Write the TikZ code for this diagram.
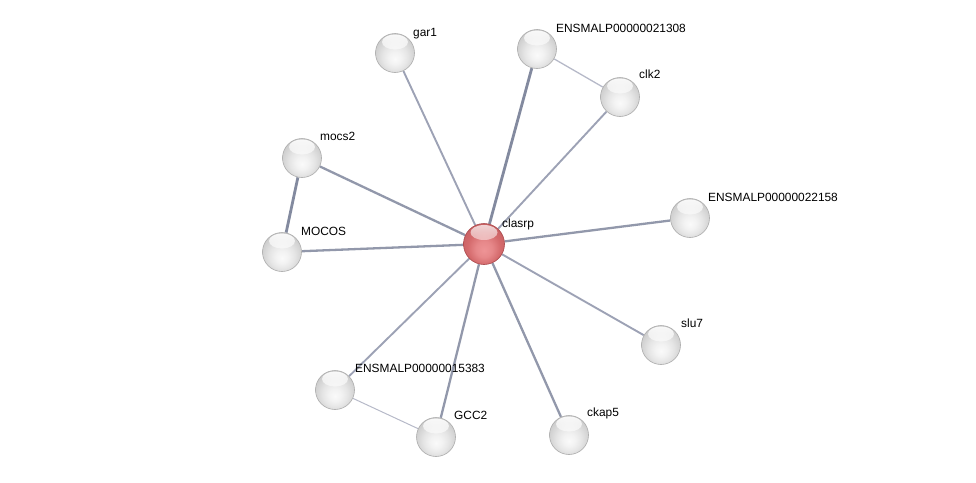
\documentclass[tikz,border=0pt]{standalone}
\usepackage{fontspec}
\setmainfont{Liberation Sans}
\usetikzlibrary{fadings}
\pgfdeclareradialshading{graysphere}{\pgfpoint{0bp}{-8bp}}{%
  color(0bp)=(white!96!gray); color(8bp)=(white!90!gray); color(16bp)=(white!80!gray);
  color(24bp)=(white!66!gray); color(30bp)=(white!56!gray); color(50bp)=(white!50!gray)}
\definecolor{redbody}{HTML}{D46A6C}
\definecolor{redlight}{HTML}{EE9496}
\definecolor{redrim}{HTML}{A8474A}
\pgfdeclareradialshading{redsphere}{\pgfpoint{0bp}{-8bp}}{%
  color(0bp)=(redlight); color(10bp)=(redlight!70!redbody); color(20bp)=(redbody);
  color(28bp)=(redbody!75!redrim); color(33bp)=(redrim); color(50bp)=(redrim)}
\definecolor{edgeA}{HTML}{838A9F}
\definecolor{edgeB}{HTML}{9DA2B5}
\definecolor{edgeC}{HTML}{B6B9C8}
\tikzset{
  prot/.style={circle, minimum size=39pt, inner sep=0pt, shading=graysphere,
    draw=white!35!gray, line width=0.6pt,
    path picture={\fill[white, path fading=south, opacity=0.9]
      ([yshift=-8.5pt]path picture bounding box.north) ellipse (13pt and 7.5pt);}},
  qprot/.style={circle, minimum size=41pt, inner sep=0pt, shading=redsphere,
    draw=redrim, line width=0.6pt,
    path picture={\fill[white, path fading=south, opacity=0.75]
      ([yshift=-9pt]path picture bounding box.north) ellipse (13.5pt and 7.5pt);}},
  lbl/.style={anchor=base west, inner sep=0pt, font=\fontsize{11.9}{14}\selectfont},
  strong/.style={draw=edgeA, line width=2.8pt},
  medium/.style={draw=edgeA!88!white, line width=2.3pt},
  weak/.style={draw=edgeB, line width=1.9pt},
  faint/.style={draw=edgeC, line width=1.3pt},
}
\pgfdeclarelayer{bg}
\pgfsetlayers{bg,main}
\begin{document}
\begin{tikzpicture}[x=1pt,y=-1pt]
\useasboundingbox (0,0) rectangle (976,482);
% nodes
\node[qprot] (clasrp) at (484,244) {};
\node[prot] (gar1) at (395,53) {};
\node[prot] (e21308) at (537,49) {};
\node[prot] (clk2) at (620,97) {};
\node[prot] (mocs2) at (302,158) {};
\node[prot] (mocos) at (282,252) {};
\node[prot] (e22158) at (690,218) {};
\node[prot] (slu7) at (661,345) {};
\node[prot] (ckap5) at (569,435) {};
\node[prot] (gcc2) at (436,437) {};
\node[prot] (e15383) at (335,390) {};
% edges (behind nodes)
\begin{pgfonlayer}{bg}
\draw[strong] (clasrp) -- (e21308);
\draw[weak] (clasrp) -- (gar1);
\draw[weak] (clasrp) -- (clk2);
\draw[faint] (e21308) -- (clk2);
\draw[medium] (clasrp) -- (mocs2);
\draw[medium] (clasrp) -- (mocos);
\draw[strong] (mocs2) -- (mocos);
\draw[medium] (clasrp) -- (e22158);
\draw[weak] (clasrp) -- (slu7);
\draw[medium] (clasrp) -- (ckap5);
\draw[medium] (clasrp) -- (gcc2);
\draw[weak] (clasrp) -- (e15383);
\draw[faint, line width=1pt] (e15383) -- (gcc2);
\end{pgfonlayer}
% labels
\node[lbl] (lclasrp) at ([shift={(18,-17)}]clasrp.center) {clasrp};
\node[lbl] (lgar1) at ([shift={(18,-17)}]gar1.center) {gar1};
\node[lbl] (l21308) at ([shift={(19,-17)}]e21308.center) {ENSMALP00000021308};
\node[lbl] (lclk2) at ([shift={(19,-19)}]clk2.center) {clk2};
\node[lbl] (lmocs2) at ([shift={(18,-18)}]mocs2.center) {mocs2};
\node[lbl] (lmocos) at ([shift={(19,-17)}]mocos.center) {MOCOS};
\node[lbl] (l22158) at ([shift={(18,-17)}]e22158.center) {ENSMALP00000022158};
\node[lbl] (lslu7) at ([shift={(20,-18)}]slu7.center) {slu7};
\node[lbl] (lckap5) at ([shift={(18,-19)}]ckap5.center) {ckap5};
\node[lbl] (lgcc2) at ([shift={(18,-18)}]gcc2.center) {GCC2};
\node[lbl] (l15383) at ([shift={(20,-18)}]e15383.center) {ENSMALP00000015383};
\end{tikzpicture}
\end{document}
